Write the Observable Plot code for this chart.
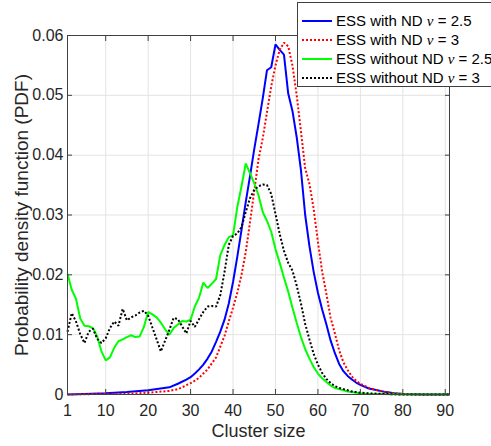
<!DOCTYPE html>
<html><head><meta charset="utf-8">
<script src="https://cdn.jsdelivr.net/npm/d3@7"></script>
<script src="https://cdn.jsdelivr.net/npm/@observablehq/plot@0.6"></script>
<style>
body{margin:0;background:#fff;}
#wrap{position:relative;width:491px;height:446px;overflow:hidden;font-family:"Liberation Sans",Arial,sans-serif;}
#legend{position:absolute;left:297px;top:2px;width:200px;height:85px;background:#fff;border:1px solid #404040;box-sizing:border-box;}
.row{position:absolute;left:0;height:19px;display:flex;align-items:center;font-size:15px;color:#000;white-space:nowrap;}
.row svg{margin-left:4px;margin-right:4px;}
.nu{font-family:"Liberation Serif","DejaVu Serif",serif;font-style:italic;}
</style></head><body><div id="wrap"><div id="legend"></div></div>
<script>
// Axis ticks
const xTicks = [1, 10, 20, 30, 40, 50, 60, 70, 80, 90];
const yTicks = [0, 0.01, 0.02, 0.03, 0.04, 0.05, 0.06];
const yTickLabels = ["0", "0.01", "0.02", "0.03", "0.04", "0.05", "0.06"];

// Series names
const seriesNames = ["ESS with ND", "ESS with ND", "ESS without ND", "ESS without ND"];
const seriesNu = ["2.5", "3", "2.5", "3"];

// ESS with ND, nu = 2.5 (blue)
const blueX = [1,5,10,15,20,25,27,29,30,31,32,33,34,35,36,37,38,39,40,41,42,43,44,45,46,47,48,49,50,51,52,53,54,55,56,57,58,59,60,61,62,63,64,65,66,67,68,69,70,72,74,76,78,80,85,91];
const blueY = [0,0.0001,0.0002,0.0004,0.0007,0.0012,0.0018,0.0025,0.0029,0.0035,0.0042,0.0050,0.0060,0.0072,0.0088,0.0105,0.0125,0.0152,0.0188,0.0230,0.0275,0.0322,0.0365,0.0410,0.0452,0.0495,0.0542,0.0547,0.0585,0.0576,0.0568,0.0503,0.0474,0.0430,0.0375,0.0300,0.0248,0.0205,0.0170,0.0142,0.0117,0.0090,0.0069,0.0051,0.0039,0.0031,0.0025,0.0020,0.0016,0.0010,0.0007,0.0004,0.0002,0.0001,0,0];

// ESS with ND, nu = 3 (red dotted)
const redX = [1,10,15,20,25,27,28,30,31,32,33,34,35,36,37,38,39,40,41,42,43,44,45,46,47,48,49,50,51,52,53,54,55,56,57,58,59,60,61,62,63,64,65,66,67,68,69,70,72,74,76,78,80,85,91];
const redY = [0,0.0001,0.0001,0.0003,0.0006,0.0009,0.0012,0.0019,0.0023,0.0028,0.0035,0.0042,0.0052,0.0062,0.0080,0.0098,0.0122,0.0145,0.0170,0.0200,0.0238,0.0288,0.0340,0.0393,0.0428,0.0472,0.0515,0.0550,0.0576,0.0588,0.0582,0.0550,0.0500,0.0440,0.0378,0.0352,0.0310,0.0255,0.0205,0.0168,0.0128,0.0102,0.0074,0.0054,0.0041,0.0030,0.0023,0.0018,0.0011,0.0007,0.0004,0.0002,0.0001,0,0];

// ESS without ND, nu = 2.5 (green)
const greenX = [1,2,3,4,5,6,7,8,9,10,11,12,13,14,15,16,17,18,19,20,21,22,23,24,25,26,27,28,29,30,31,32,33,34,35,36,37,38,39,40,41,42,43,44,45,46,47,48,49,50,51,52,53,54,55,56,57,58,59,60,61,62,63,64,65,66,67,68,69,70,72,75,80,85,91];
const greenY = [0.0202,0.0175,0.0160,0.0127,0.0115,0.0114,0.0111,0.0097,0.0072,0.0057,0.0062,0.0078,0.0089,0.0092,0.0096,0.0099,0.0096,0.0097,0.0113,0.0138,0.0134,0.0129,0.0120,0.0109,0.0100,0.0111,0.0117,0.0123,0.0122,0.0125,0.0147,0.0162,0.0187,0.0178,0.0185,0.0193,0.0233,0.0250,0.0263,0.0266,0.0313,0.0348,0.0386,0.0370,0.0353,0.0333,0.0305,0.0290,0.0272,0.0243,0.0220,0.0195,0.0172,0.0145,0.0120,0.0096,0.0076,0.0060,0.0046,0.0035,0.0027,0.0021,0.0015,0.0011,0.0009,0.0007,0.0005,0.0004,0.0003,0.0002,0.0001,0.0001,0,0,0];

// ESS without ND, nu = 3 (black dotted)
const blackX = [1,2,3,4,5,6,7,8,9,10,11,12,13,14,15,16,17,18,19,20,21,22,23,24,25,26,27,28,29,30,31,32,33,34,35,36,37,38,39,40,41,42,43,44,45,46,47,48,49,50,51,52,53,54,55,56,57,58,59,60,61,62,63,64,65,66,67,68,69,70,72,75,80,85,91];
const blackY = [0.0105,0.0136,0.0122,0.0101,0.0086,0.0105,0.0110,0.0093,0.0086,0.0094,0.0111,0.0122,0.0115,0.0143,0.0124,0.0129,0.0132,0.0137,0.0140,0.0132,0.0112,0.0092,0.0072,0.0090,0.0108,0.0128,0.0126,0.0114,0.0102,0.0123,0.0113,0.0126,0.0138,0.0147,0.0148,0.0147,0.0166,0.0205,0.0250,0.0265,0.0269,0.0280,0.0305,0.0328,0.0342,0.0348,0.0351,0.0350,0.0335,0.0302,0.0268,0.0240,0.0220,0.0207,0.0182,0.0152,0.0118,0.0092,0.0068,0.0050,0.0036,0.0026,0.0019,0.0014,0.0011,0.0009,0.0007,0.0005,0.0004,0.0003,0.0002,0.0001,0,0,0];

const styles = [
  {stroke: "#0000ff", dash: null},
  {stroke: "#ff0000", dash: "2,2"},
  {stroke: "#00ff00", dash: null},
  {stroke: "#000000", dash: "2,2"}
];
const xsAll = [blueX, redX, greenX, blackX];
const ysAll = [blueY, redY, greenY, blackY];

const lineMarks = xsAll.map((xs, k) => {
  const data = xs.map((x, i) => ({x, y: ysAll[k][i]}));
  const o = {x: "x", y: "y", stroke: styles[k].stroke, strokeWidth: 2, strokeLinejoin: "miter", strokeLinecap: "butt"};
  if (styles[k].dash) o.strokeDasharray = styles[k].dash;
  return Plot.line(data, o);
});

const axisColor = "#404040";
const chart = Plot.plot({
  width: 491, height: 446,
  marginLeft: 67, marginRight: 42, marginTop: 35, marginBottom: 52,
  style: {fontFamily: "'Liberation Sans', Arial, sans-serif", fontSize: "16px", color: "#262626", background: "#fff", overflow: "visible"},
  x: {domain: [1, 91]},
  y: {domain: [0, 0.06]},
  marks: [
    Plot.gridX(xTicks, {stroke: "#e3e3e3", strokeOpacity: 1}),
    Plot.gridY(yTicks, {stroke: "#e3e3e3", strokeOpacity: 1}),
    ...lineMarks,
    Plot.frame({stroke: axisColor}),
    Plot.axisX(xTicks, {anchor: "bottom", tickSize: -5, stroke: axisColor, tickFormat: () => "", label: null}),
    Plot.axisX(xTicks, {anchor: "top", tickSize: -5, stroke: axisColor, tickFormat: () => "", label: null}),
    Plot.axisY(yTicks, {anchor: "left", tickSize: -5, stroke: axisColor, tickFormat: () => "", label: null}),
    Plot.axisY(yTicks, {anchor: "right", tickSize: -5, stroke: axisColor, tickFormat: () => "", label: null}),
    Plot.axisX(xTicks, {anchor: "bottom", tickSize: 0, tickPadding: 10, tickFormat: d => String(d), fill: "#262626", label: null}),
    Plot.axisY(yTicks, {anchor: "left", tickSize: 0, tickPadding: 4, tickFormat: d => yTickLabels[yTicks.indexOf(d)], fill: "#262626", label: null}),
    Plot.axisX([], {anchor: "bottom", tickSize: 0, label: "Cluster size", labelAnchor: "center", labelArrow: "none", labelOffset: 42, fontSize: 18, fill: "#262626"}),
    Plot.axisY([], {anchor: "left", tickSize: 0, label: "Probability density function (PDF)", labelAnchor: "center", labelArrow: "none", labelOffset: 53, fontSize: 19, fill: "#262626"})
  ]
});
const wrap = document.getElementById("wrap");
wrap.insertBefore(chart, wrap.firstChild);

// Legend (HTML overlay)
const legend = document.getElementById("legend");
const rowCenters = [18, 37, 55.5, 74.5];
seriesNames.forEach((name, k) => {
  const row = document.createElement("div");
  row.className = "row";
  row.style.top = (rowCenters[k] - 9.5) + "px";
  const dash = styles[k].dash ? ` stroke-dasharray="${styles[k].dash}"` : "";
  row.innerHTML = `<svg width="30" height="6"><line x1="0" y1="3" x2="30" y2="3" stroke="${styles[k].stroke}" stroke-width="2"${dash}/></svg><span>${name} <span class="nu">ν</span> = ${seriesNu[k]}</span>`;
  legend.appendChild(row);
});
</script>
</body></html>
